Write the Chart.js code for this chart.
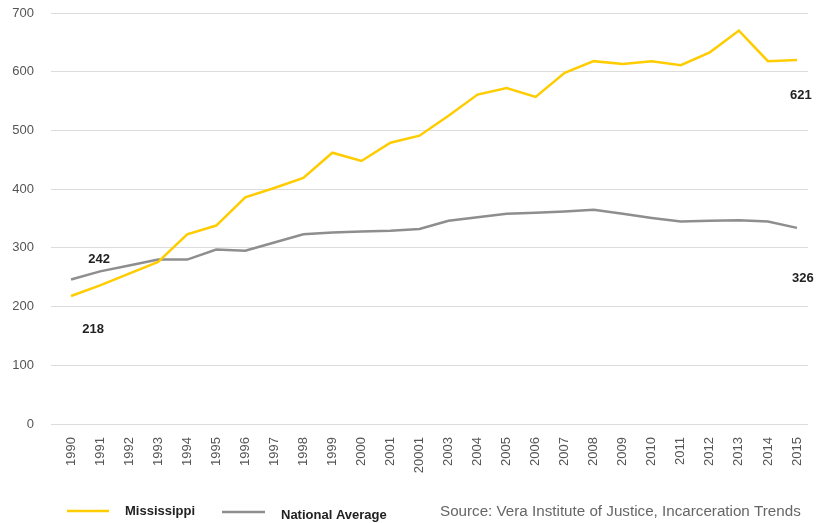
<!DOCTYPE html>
<html>
<head>
<meta charset="utf-8">
<script src="https://cdn.jsdelivr.net/npm/chart.js@4.4.1/dist/chart.umd.min.js"></script>
<style>
  html, body { margin: 0; padding: 0; background: #fff; }
  #grafico { display: block; }
</style>
</head>
<body>
<canvas id="grafico" width="830" height="523"></canvas>
<script>
// === DATA ===
const years = ["1990", "1991", "1992", "1993", "1994", "1995", "1996", "1997", "1998", "1999",
  "2000", "2001", "20001", "2003", "2004", "2005", "2006", "2007", "2008", "2009",
  "2010", "2011", "2012", "2013", "2014", "2015"];
const mississippi = [218, 236, 256, 276, 323, 338, 386, 402, 419, 462,
  448, 479, 491, 525, 561, 572, 557, 598, 618, 613,
  618, 611, 633, 670, 618, 620];
const nationalAverage = [246, 260, 270, 280, 280, 297, 295, 309, 323, 326,
  328, 329, 332, 346, 352, 358, 360, 362, 365, 358,
  351, 345, 346, 347, 345, 334];
const yTicks = [0, 100, 200, 300, 400, 500, 600, 700];
const endLabels = [
  { text: "242", series: 1, index: 0, dx: 28, dy: -20 },
  { text: "218", series: 0, index: 0, dx: 22, dy: 33 },
  { text: "621", series: 0, index: 25, dx: 4, dy: 35 },
  { text: "326", series: 1, index: 25, dx: 6, dy: 51 }
];

const YELLOW = "#ffcc00";
const GRAY = "#8e8e8e";
const FONT = "'Liberation Sans', Arial, sans-serif";

// === LABELS + LEGEND + SOURCE ===
const extras = {
  id: "extras",
  afterDraw(chart) {
    const ctx = chart.ctx;
    const x = chart.scales.x, y = chart.scales.y;
    const series = [mississippi, nationalAverage];
    ctx.save();
    ctx.textAlign = "center";
    ctx.textBaseline = "middle";
    ctx.fillStyle = "#222";
    ctx.font = "bold 13px " + FONT;
    endLabels.forEach(l => {
      const px = x.getPixelForValue(l.index) + l.dx;
      const py = y.getPixelForValue(series[l.series][l.index]) + l.dy;
      ctx.fillText(l.text, px, py);
    });

    // legend
    ctx.lineWidth = 2.5;
    ctx.strokeStyle = YELLOW;
    ctx.beginPath(); ctx.moveTo(67, 511); ctx.lineTo(109, 511); ctx.stroke();
    ctx.strokeStyle = GRAY;
    ctx.beginPath(); ctx.moveTo(222, 512); ctx.lineTo(265, 512); ctx.stroke();
    ctx.textAlign = "left";
    ctx.fillText("Mississippi", 125, 511);
    ctx.fillText("National Average", 281, 515);

    ctx.font = "15.2px " + FONT;
    ctx.fillStyle = "#666";
    ctx.fillText("Source: Vera Institute of Justice, Incarceration Trends", 440, 512);
    ctx.restore();
  }
};

// === CHART ===
new Chart(document.getElementById("grafico"), {
  type: "line",
  data: {
    datasets: [
      {
        label: "Mississippi",
        data: mississippi.map((v, i) => ({ x: i, y: v })),
        borderColor: YELLOW,
        borderWidth: 2.5,
        pointRadius: 0,
        tension: 0
      },
      {
        label: "National Average",
        data: nationalAverage.map((v, i) => ({ x: i, y: v })),
        borderColor: GRAY,
        borderWidth: 2.5,
        pointRadius: 0,
        tension: 0
      }
    ]
  },
  options: {
    responsive: false,
    animation: false,
    layout: { padding: { top: 13, left: 0, right: 22, bottom: 39 } },
    plugins: {
      legend: { display: false },
      tooltip: { enabled: false }
    },
    scales: {
      x: {
        type: "linear",
        min: -0.69,
        max: 25.38,
        grid: { display: false },
        border: { display: false },
        afterBuildTicks: axis => { axis.ticks = years.map((_, i) => ({ value: i })); },
        afterFit: axis => { axis.height = 60; },
        ticks: {
          autoSkip: false,
          minRotation: 90,
          maxRotation: 90,
          padding: 5,
          color: "#555",
          font: { family: FONT, size: 13 },
          callback: v => years[v]
        }
      },
      y: {
        min: 0,
        max: 700,
        afterBuildTicks: axis => { axis.ticks = yTicks.map(v => ({ value: v })); },
        afterFit: axis => {
          axis.width = 51;
          axis.paddingTop = 8;
          axis.paddingBottom = 8;
        },
        grid: { color: "#dcdcdc", lineWidth: 1, drawTicks: false },
        border: { display: false },
        ticks: {
          padding: 17,
          color: "#555",
          font: { family: FONT, size: 13 }
        }
      }
    }
  },
  plugins: [extras]
});
</script>
</body>
</html>
